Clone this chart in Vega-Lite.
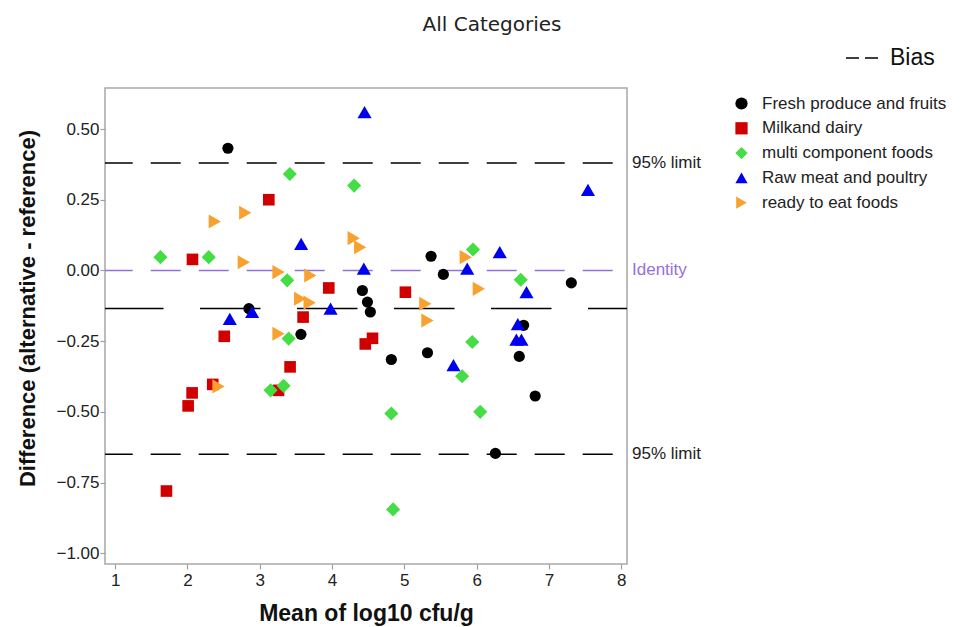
{
  "$schema": "https://vega.github.io/schema/vega-lite/v6.json",
  "autosize": "none",
  "width": 522,
  "height": 476,
  "padding": {"left": 105, "top": 88, "right": 335, "bottom": 63},
  "background": "white",
  "title": {"text": "All Categories", "fontSize": 20, "fontWeight": "normal", "font": "DejaVu Sans", "color": "#222", "anchor": "middle", "dx": 126, "offset": 3},
  "config": {
    "font": "Liberation Sans",
    "view": {"stroke": "#a8a8a8", "strokeWidth": 1.5},
    "axis": {"domain": false, "grid": false, "tickColor": "#a0a0a0", "tickSize": 5, "tickWidth": 1.2, "labelFontSize": 17, "labelColor": "#222", "titleFontWeight": "bold", "titleColor": "#111"}
  },
  "resolve": {"scale": {"color": "independent", "shape": "independent"}},
  "datasets": {
    "pts": [
      {"cat": "Fresh produce and fruits", "mean": 2.56, "diff": 0.432},
      {"cat": "Fresh produce and fruits", "mean": 2.85, "diff": -0.135},
      {"cat": "Fresh produce and fruits", "mean": 3.57, "diff": -0.226},
      {"cat": "Fresh produce and fruits", "mean": 4.42, "diff": -0.071},
      {"cat": "Fresh produce and fruits", "mean": 4.49, "diff": -0.112},
      {"cat": "Fresh produce and fruits", "mean": 4.53, "diff": -0.147},
      {"cat": "Fresh produce and fruits", "mean": 4.82, "diff": -0.315},
      {"cat": "Fresh produce and fruits", "mean": 5.32, "diff": -0.291},
      {"cat": "Fresh produce and fruits", "mean": 5.37, "diff": 0.05},
      {"cat": "Fresh produce and fruits", "mean": 5.54, "diff": -0.014},
      {"cat": "Fresh produce and fruits", "mean": 6.26, "diff": -0.647},
      {"cat": "Fresh produce and fruits", "mean": 6.59, "diff": -0.304},
      {"cat": "Fresh produce and fruits", "mean": 6.65, "diff": -0.194},
      {"cat": "Fresh produce and fruits", "mean": 6.81, "diff": -0.444},
      {"cat": "Fresh produce and fruits", "mean": 7.31, "diff": -0.044},
      {"cat": "Milkand dairy", "mean": 1.71, "diff": -0.78},
      {"cat": "Milkand dairy", "mean": 2.01, "diff": -0.479},
      {"cat": "Milkand dairy", "mean": 2.065, "diff": -0.433},
      {"cat": "Milkand dairy", "mean": 2.07, "diff": 0.039},
      {"cat": "Milkand dairy", "mean": 2.35, "diff": -0.403},
      {"cat": "Milkand dairy", "mean": 2.51, "diff": -0.233},
      {"cat": "Milkand dairy", "mean": 3.126, "diff": 0.25},
      {"cat": "Milkand dairy", "mean": 3.26, "diff": -0.424},
      {"cat": "Milkand dairy", "mean": 3.42, "diff": -0.341},
      {"cat": "Milkand dairy", "mean": 3.6, "diff": -0.165},
      {"cat": "Milkand dairy", "mean": 3.955, "diff": -0.062},
      {"cat": "Milkand dairy", "mean": 4.46, "diff": -0.26},
      {"cat": "Milkand dairy", "mean": 4.56, "diff": -0.24},
      {"cat": "Milkand dairy", "mean": 5.015, "diff": -0.077},
      {"cat": "multi component foods", "mean": 1.627, "diff": 0.047},
      {"cat": "multi component foods", "mean": 2.295, "diff": 0.047},
      {"cat": "multi component foods", "mean": 3.15, "diff": -0.424},
      {"cat": "multi component foods", "mean": 3.33, "diff": -0.408},
      {"cat": "multi component foods", "mean": 3.38, "diff": -0.035},
      {"cat": "multi component foods", "mean": 3.4, "diff": -0.241},
      {"cat": "multi component foods", "mean": 3.416, "diff": 0.341},
      {"cat": "multi component foods", "mean": 4.306, "diff": 0.3},
      {"cat": "multi component foods", "mean": 4.82, "diff": -0.506},
      {"cat": "multi component foods", "mean": 4.845, "diff": -0.845},
      {"cat": "multi component foods", "mean": 5.8, "diff": -0.374},
      {"cat": "multi component foods", "mean": 5.94, "diff": -0.253},
      {"cat": "multi component foods", "mean": 5.95, "diff": 0.074},
      {"cat": "multi component foods", "mean": 6.05, "diff": -0.5},
      {"cat": "multi component foods", "mean": 6.61, "diff": -0.033},
      {"cat": "Raw meat and poultry", "mean": 2.586, "diff": -0.171},
      {"cat": "Raw meat and poultry", "mean": 2.895, "diff": -0.147},
      {"cat": "Raw meat and poultry", "mean": 3.573, "diff": 0.094},
      {"cat": "Raw meat and poultry", "mean": 3.98, "diff": -0.135},
      {"cat": "Raw meat and poultry", "mean": 4.44, "diff": 0.006},
      {"cat": "Raw meat and poultry", "mean": 4.45, "diff": 0.56},
      {"cat": "Raw meat and poultry", "mean": 5.68, "diff": -0.335},
      {"cat": "Raw meat and poultry", "mean": 5.87, "diff": 0.006},
      {"cat": "Raw meat and poultry", "mean": 6.32, "diff": 0.065},
      {"cat": "Raw meat and poultry", "mean": 6.57, "diff": -0.19},
      {"cat": "Raw meat and poultry", "mean": 6.55, "diff": -0.245},
      {"cat": "Raw meat and poultry", "mean": 6.62, "diff": -0.245},
      {"cat": "Raw meat and poultry", "mean": 6.69, "diff": -0.077},
      {"cat": "Raw meat and poultry", "mean": 7.54, "diff": 0.285},
      {"cat": "ready to eat foods", "mean": 2.379, "diff": 0.173},
      {"cat": "ready to eat foods", "mean": 2.43, "diff": -0.41},
      {"cat": "ready to eat foods", "mean": 2.78, "diff": 0.029},
      {"cat": "ready to eat foods", "mean": 2.8, "diff": 0.204},
      {"cat": "ready to eat foods", "mean": 3.26, "diff": -0.006},
      {"cat": "ready to eat foods", "mean": 3.26, "diff": -0.224},
      {"cat": "ready to eat foods", "mean": 3.56, "diff": -0.1},
      {"cat": "ready to eat foods", "mean": 3.69, "diff": -0.114},
      {"cat": "ready to eat foods", "mean": 3.7, "diff": -0.018},
      {"cat": "ready to eat foods", "mean": 4.3, "diff": 0.114},
      {"cat": "ready to eat foods", "mean": 4.39, "diff": 0.082},
      {"cat": "ready to eat foods", "mean": 5.29, "diff": -0.118},
      {"cat": "ready to eat foods", "mean": 5.32, "diff": -0.177},
      {"cat": "ready to eat foods", "mean": 5.85, "diff": 0.047},
      {"cat": "ready to eat foods", "mean": 6.03, "diff": -0.065}
    ],
    "limits": [
      {"y": 0.38, "label": "95% limit"},
      {"y": -0.65, "label": "95% limit"}
    ],
    "identity": [{"y": 0, "label": "Identity"}],
    "bias": [{"y": -0.135, "line": "Bias"}]
  },
  "layer": [
    {
      "data": {"name": "limits"},
      "mark": {"type": "rule", "color": "#000", "strokeWidth": 1.5, "strokeDash": [30, 18], "strokeDashOffset": 33.7},
      "encoding": {
        "y": {"field": "y", "type": "quantitative", "scale": {"domain": [-1.038, 0.645], "nice": false, "zero": false},
          "axis": {"values": [-1, -0.75, -0.5, -0.25, 0, 0.25, 0.5], "format": ".2f", "title": "Difference (alternative - reference)", "titleFontSize": 22, "titlePadding": 16, "titleY": 220, "labelPadding": 1}}
      }
    },
    {
      "data": {"name": "limits"},
      "mark": {"type": "text", "align": "left", "baseline": "middle", "dx": 5, "fontSize": 17, "color": "#222"},
      "encoding": {
        "x": {"datum": 8.08, "type": "quantitative"},
        "y": {"field": "y", "type": "quantitative"},
        "text": {"field": "label"}
      }
    },
    {
      "data": {"name": "identity"},
      "mark": {"type": "rule", "color": "#9470DB", "strokeWidth": 1.5, "strokeDash": [30, 18], "strokeDashOffset": 33.7},
      "encoding": {"y": {"field": "y", "type": "quantitative"}}
    },
    {
      "data": {"name": "identity"},
      "mark": {"type": "text", "align": "left", "baseline": "middle", "dx": 5, "fontSize": 17, "color": "#9470DB"},
      "encoding": {
        "x": {"datum": 8.08, "type": "quantitative"},
        "y": {"field": "y", "type": "quantitative"},
        "text": {"field": "label"}
      }
    },
    {
      "data": {"name": "bias"},
      "mark": {"type": "rule", "strokeWidth": 1.5, "strokeDash": [60.5, 36.5], "strokeDashOffset": 21.5},
      "encoding": {
        "y": {"field": "y", "type": "quantitative"},
        "color": {"field": "line", "type": "nominal", "scale": {"range": ["#000000"]},
          "legend": {"title": null, "orient": "none", "legendX": 740, "legendY": -50, "symbolType": "stroke", "symbolSize": 1444, "symbolStrokeWidth": 1.5, "symbolDash": [13, 6], "labelFontSize": 23, "labelColor": "#111", "labelOffset": 5}}
      }
    },
    {
      "data": {"name": "pts"},
      "mark": {"type": "point", "filled": true, "opacity": 1},
      "encoding": {
        "x": {"field": "mean", "type": "quantitative", "scale": {"domain": [0.86, 8.08], "nice": false, "zero": false},
          "axis": {"values": [1, 2, 3, 4, 5, 6, 7, 8], "format": "d", "title": "Mean of log10 cfu/g", "titleFontSize": 23, "titlePadding": 14, "labelPadding": 3}},
        "y": {"field": "diff", "type": "quantitative"},
        "size": {"field": "cat", "type": "nominal", "legend": null,
          "scale": {"type": "ordinal", "domain": ["Fresh produce and fruits", "Milkand dairy", "multi component foods", "Raw meat and poultry", "ready to eat foods"], "range": [125, 135, 200, 200, 200]}},
        "color": {"field": "cat", "type": "nominal",
          "scale": {"domain": ["Fresh produce and fruits", "Milkand dairy", "multi component foods", "Raw meat and poultry", "ready to eat foods"], "range": ["#000000", "#D00000", "#44DD44", "#0000F0", "#F8A12E"]},
          "legend": {"title": null, "orient": "none", "legendX": 628, "legendY": 7, "labelFontSize": 17, "labelColor": "#222", "labelLimit": 400, "symbolSize": 150, "rowPadding": 6.8, "labelOffset": 12}},
        "shape": {"field": "cat", "type": "nominal",
          "scale": {"domain": ["Fresh produce and fruits", "Milkand dairy", "multi component foods", "Raw meat and poultry", "ready to eat foods"], "range": ["circle", "square", "diamond", "triangle-up", "triangle-right"]},
          "legend": {"title": null, "orient": "none", "legendX": 628, "legendY": 7, "labelFontSize": 17, "labelColor": "#222", "labelLimit": 400, "symbolSize": 150, "rowPadding": 6.8, "labelOffset": 12}}
      }
    }
  ]
}
